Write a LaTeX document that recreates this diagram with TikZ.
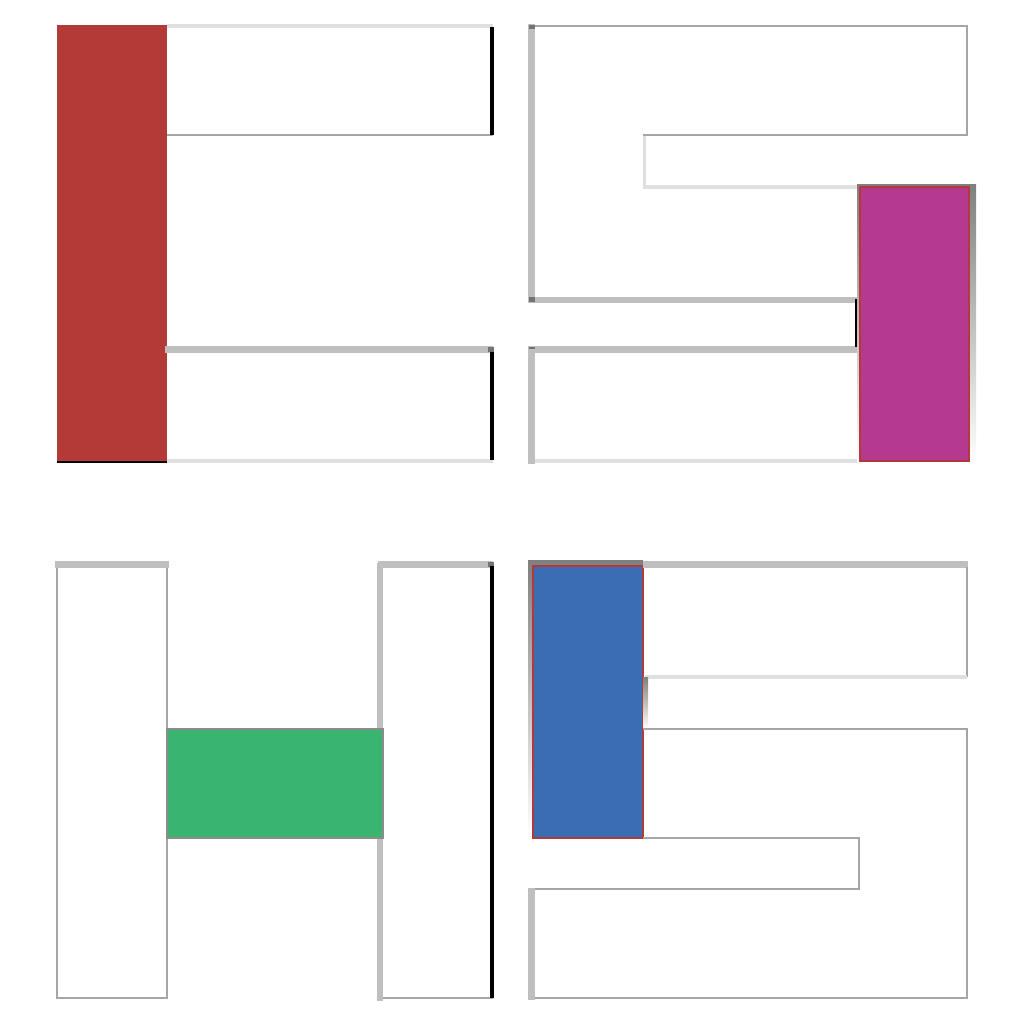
\documentclass[tikz,border=0pt]{standalone}
\definecolor{tilered}{HTML}{B33A36}
\definecolor{tilemag}{HTML}{B5398F}
\definecolor{tilegreen}{HTML}{3AB56F}
\definecolor{tileblue}{HTML}{3A6DB3}
\definecolor{shade}{HTML}{606060}
\tikzset{
  thin edge/.style={draw=black!35,line width=0.45pt},
  pale edge/.style={draw=black!12,line width=0.9pt},
  thick edge/.style={draw=black!25,line width=1.9pt,line cap=rect},
  dark edge/.style={draw=black,line width=1pt},
}
\begin{document}
\begin{tikzpicture}[x=0.01cm,y=-0.01cm]
        \useasboundingbox[fill=white] (0,0) rectangle (1024,1024);
        % 左上
        \fill[tilered] (57,25) rectangle (167,462); %赤
        \draw[shade,line width=0.6pt] (57,462)--(167,462);
        \draw[pale edge] (167,26)--(493,26);
        \draw[thin edge] (167,135)--(493,135);
        \draw[thick edge] (168,349.5)--(490,349.5);
        \fill[black!55] (488,347) rectangle (494,352);
        \draw[pale edge] (167,461)--(493,461);
        \draw[dark edge] (492,27)--(492,135);
        \draw[dark edge] (492,352)--(492,460);
        % 右上
        \draw[thick edge] (531.5,27)--(531.5,298);
        \fill[black!55] (529,25) rectangle (535,29);
        \draw[thin edge] (535,26)--(967,26)--(967,135)--(643,135);
        \draw[pale edge] (644.5,136)--(644.5,187)--(859,187);
        \draw[thick edge] (531.5,300)--(855,300);
        \draw[thick edge] (531.5,349.5)--(855,349.5);
        \fill[black!55] (529,297) rectangle (535,302);
        \fill[black!55] (529,347) rectangle (535,352);
        \draw[dark edge] (857,299)--(857,347);
        \draw[thick edge] (531.5,352)--(531.5,461);
        \draw[pale edge] (535,461)--(859,461);
        \fill[shade] (857,184) rectangle (976,463);
        \draw[fill=tilemag,draw=tilered,line width=0.6pt] (860,187) rectangle (969,461); %紫
        % 左下
        \draw[thin edge] (57,564)--(57,998)--(167,998)--(167,564);
        \draw[thick edge] (58,564.5)--(166,564.5);
        \draw[thick edge] (380,566)--(380,998);
        \draw[thick edge] (381,564.5)--(490,564.5);
        \fill[black!55] (488,562) rectangle (494,567);
        \draw[thin edge] (383,998)--(493,998);
        \draw[dark edge] (492,566)--(492,998);
        \draw[fill=tilegreen,draw=black!45,line width=0.4pt] (167,729) rectangle (383,838); %緑
        % 右下
        \fill[shade] (528,560) rectangle (643,838);
        \draw[fill=tileblue,draw=tilered,line width=0.6pt] (533,566) rectangle (643,838); %青
        \draw[thick edge] (646,564.5)--(965,564.5);
        \draw[thin edge] (967,567)--(967,677);
        \draw[pale edge] (645,677)--(967,677);
        \fill[shade] (643,677) rectangle (648,729);
        \draw[thin edge] (643,729)--(967,729)--(967,998)--(535,998);
        \draw[thin edge] (643,838)--(859,838)--(859,889)--(535,889);
        \draw[thick edge] (531.5,891)--(531.5,997);
\end{tikzpicture}
\end{document}
